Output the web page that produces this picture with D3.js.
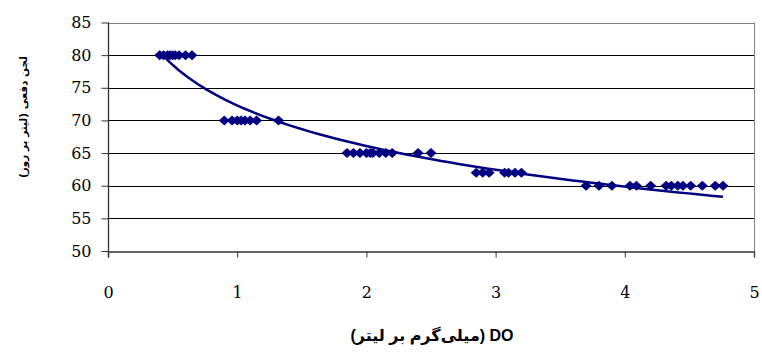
<!DOCTYPE html>
<html>
<head>
<meta charset="utf-8">
<script src="https://cdn.jsdelivr.net/npm/d3@7"></script>
<style>
  body { margin: 0; background: #fff; }
  svg { display: block; }
</style>
</head>
<body>
<svg id="chart"></svg>
<script>
// values: DO (mg/L) against sludge (L/day)
const doRow80 = [0.40, 0.43, 0.46, 0.48, 0.50, 0.52, 0.55, 0.60, 0.65];
const doRow70 = [0.90, 0.96, 1.00, 1.03, 1.06, 1.10, 1.15, 1.32];
const doRow65 = [1.85, 1.90, 1.95, 2.00, 2.03, 2.05, 2.10, 2.15, 2.20, 2.40, 2.50];
const doRow62 = [2.85, 2.90, 2.95, 3.07, 3.10, 3.15, 3.20];
const doRow60 = [3.70, 3.80, 3.90, 4.04, 4.09, 4.20, 4.32, 4.36, 4.41, 4.45, 4.51, 4.60, 4.70, 4.76];
const sludgeLevels = [80, 70, 65, 62, 60];
const xTicks = [0, 1, 2, 3, 4, 5];
const yTicks = [50, 55, 60, 65, 70, 75, 80, 85];
const xTitle = 'DO (میلی‌گرم بر لیتر)';
const yTitle = 'لجن دفعی (لیتر بر روز)';

const vWidth = 762, vHeight = 353;
const navy = '#000080';

const rows = [doRow80, doRow70, doRow65, doRow62, doRow60];
const points = [];
rows.forEach((r, i) => r.forEach(x => points.push({ x: x, y: sludgeLevels[i] })));

const svg = d3.select('#chart')
  .attr('width', vWidth)
  .attr('height', vHeight);

const x = d3.scaleLinear().domain([0, 5]).range([108, 754]);
const y = d3.scaleLinear().domain([50, 85]).range([251, 22.5]);

// grid
svg.append('g').selectAll('line')
  .data(yTicks.filter(t => t > 50 && t < 85))
  .enter().append('line')
  .attr('x1', x(0)).attr('x2', x(5))
  .attr('y1', d => Math.round(y(d)) + 0.5).attr('y2', d => Math.round(y(d)) + 0.5)
  .attr('stroke', '#000').attr('stroke-width', 1);

// plot frame top & right
svg.append('line')
  .attr('x1', x(0)).attr('x2', x(5))
  .attr('y1', Math.round(y(85)) + 0.5).attr('y2', Math.round(y(85)) + 0.5)
  .attr('stroke', '#808080');
svg.append('line')
  .attr('x1', Math.round(x(5)) + 0.5).attr('x2', Math.round(x(5)) + 0.5)
  .attr('y1', y(85)).attr('y2', y(50))
  .attr('stroke', '#808080');

// axes
const xAxis = d3.axisBottom(x).tickValues(xTicks).tickSize(6).tickPadding(29).tickFormat(d3.format('d'));
const yAxis = d3.axisLeft(y).tickValues(yTicks).tickSize(7).tickPadding(10).tickFormat(d3.format('d'));

const gx = svg.append('g')
  .attr('transform', 'translate(0,' + (Math.round(y(50)) + 0.5) + ')')
  .call(xAxis);
const gy = svg.append('g')
  .attr('transform', 'translate(' + (Math.round(x(0)) + 0.5) + ',0)')
  .call(yAxis);

[gx, gy].forEach(g => {
  g.select('.domain').attr('stroke', '#333').attr('stroke-width', 1.3);
  g.selectAll('.tick line').attr('stroke', '#333');
  g.selectAll('.tick text')
    .attr('fill', '#000')
    .style('font-family', '"DejaVu Serif", serif')
    .style('font-size', '16px');
});
gy.select('.domain').attr('d', 'M0,' + y(85) + 'V' + (y(50) + 6));

// logarithmic trend line, least squares on ln(x)
const lx = points.map(p => Math.log(p.x));
const mx = d3.mean(lx), my = d3.mean(points, p => p.y);
let sxy = 0, sxx = 0;
points.forEach((p, i) => { sxy += (lx[i] - mx) * (p.y - my); sxx += (lx[i] - mx) * (lx[i] - mx); });
const b = sxy / sxx, a = my - b * mx;
const xmin = d3.min(points, p => p.x), xmax = d3.max(points, p => p.x);
const trend = d3.range(0, 61).map(i => {
  const xv = xmin + (xmax - xmin) * i / 60;
  return [xv, a + b * Math.log(xv)];
});

svg.append('path')
  .datum(trend)
  .attr('fill', 'none')
  .attr('stroke', navy)
  .attr('stroke-width', 2.5)
  .attr('d', d3.line().x(d => x(d[0])).y(d => y(d[1])));

// diamond markers
svg.append('g').selectAll('path')
  .data(points)
  .enter().append('path')
  .attr('transform', d => 'translate(' + x(d.x) + ',' + y(d.y) + ')')
  .attr('d', 'M0,-5L5.5,0L0,5L-5.5,0Z')
  .attr('fill', navy);

// axis titles
svg.append('text')
  .attr('x', 432).attr('y', 341)
  .attr('text-anchor', 'middle')
  .attr('direction', 'rtl')
  .style('font-family', '"Liberation Sans", "DejaVu Sans", sans-serif')
  .style('font-weight', 'bold')
  .style('font-size', '16px')
  .text(xTitle);

svg.append('text')
  .attr('transform', 'translate(27,117) rotate(-90)')
  .attr('text-anchor', 'middle')
  .attr('direction', 'rtl')
  .style('font-family', '"DejaVu Sans", sans-serif')
  .style('font-weight', 'bold')
  .style('font-size', '10.5px')
  .text(yTitle);
</script>
</body>
</html>
